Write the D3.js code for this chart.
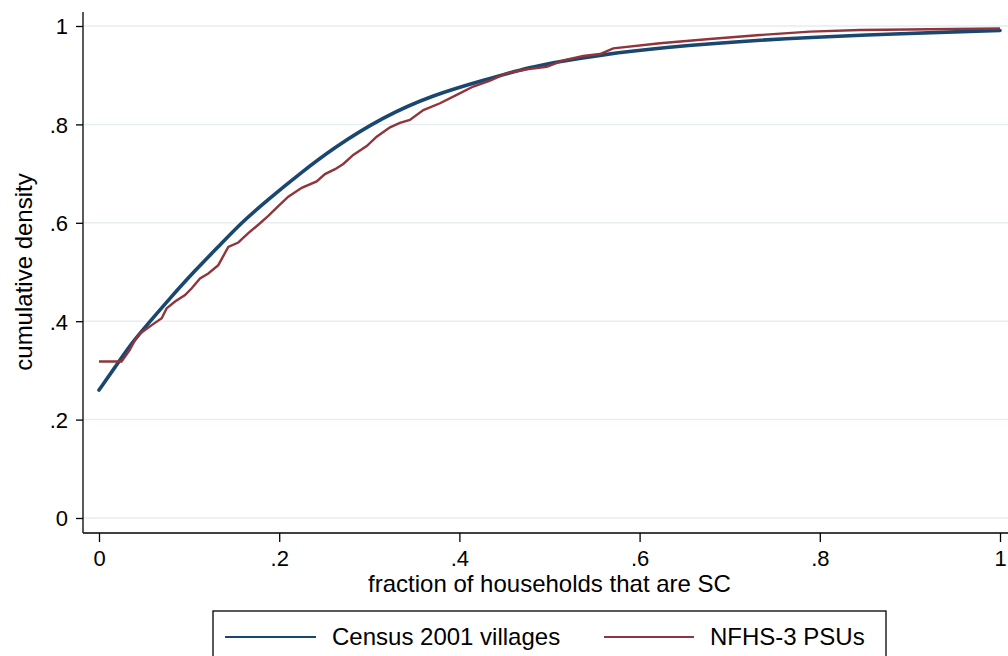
<!DOCTYPE html>
<html>
<head>
<meta charset="utf-8">
<script src="https://cdn.jsdelivr.net/npm/d3@7"></script>
<style>
  html, body { margin: 0; padding: 0; background: #fff; }
  #chart { width: 1008px; height: 656px; }
  text { font-family: "Liberation Sans", Arial, Helvetica, sans-serif; fill: #000; }
</style>
</head>
<body>
<div id="chart"></div>
<script>
// Census 2001 villages (smooth cdf)
const censusX = [0, 0.018, 0.036, 0.055, 0.077, 0.107, 0.136, 0.158, 0.188, 0.223, 0.26, 0.316, 0.371, 0.427, 0.482, 0.512, 0.556, 0.623, 0.734, 0.845, 1.0];
const censusY = [0.260, 0.307, 0.355, 0.396, 0.443, 0.504, 0.558, 0.600, 0.648, 0.700, 0.752, 0.816, 0.860, 0.890, 0.918, 0.928, 0.941, 0.956, 0.972, 0.982, 0.991];

// NFHS-3 PSUs (empirical cdf)
const nfhsX = [0, 0.025, 0.029, 0.034, 0.040, 0.0455, 0.051, 0.0585, 0.0696, 0.075, 0.0844, 0.0955, 0.1029, 0.1121, 0.1213, 0.1324, 0.1435, 0.1546, 0.1657, 0.1768, 0.1879, 0.199, 0.2101, 0.225, 0.2416, 0.2508, 0.262, 0.2711, 0.2822, 0.2971, 0.3082, 0.323, 0.334, 0.345, 0.36, 0.3785, 0.397, 0.4154, 0.434, 0.4525, 0.4747, 0.4969, 0.5153, 0.5375, 0.556, 0.5708, 0.6226, 0.678, 0.7336, 0.789, 0.8446, 1.0];
const nfhsY = [0.318, 0.318, 0.328, 0.341, 0.362, 0.375, 0.382, 0.392, 0.406, 0.426, 0.440, 0.453, 0.467, 0.487, 0.497, 0.514, 0.551, 0.560, 0.579, 0.596, 0.614, 0.634, 0.653, 0.671, 0.684, 0.699, 0.709, 0.7195, 0.738, 0.756, 0.775, 0.794, 0.803, 0.809, 0.829, 0.843, 0.860, 0.877, 0.889, 0.904, 0.912, 0.917, 0.930, 0.939, 0.943, 0.9546, 0.965, 0.9736, 0.9817, 0.9885, 0.992, 0.995];

const xTicks = [0, 0.2, 0.4, 0.6, 0.8, 1];
const yTicks = [0, 0.2, 0.4, 0.6, 0.8, 1];
const seriesNames = ['Census 2001 villages', 'NFHS-3 PSUs'];
const seriesColors = ['#1a476f', '#90353b'];

const W = 1008, H = 656;
const axisLeftX = 83, axisBottomY = 533, axisTopY = 12;
const fontSize = '24px';
const tickFontSize = '22px';

const scaleX = d3.scaleLinear().domain([0, 1]).range([99, 1000]);
const scaleY = d3.scaleLinear().domain([0, 1]).range([518, 26]);

const fmt = v => (v === 0 ? '0' : v === 1 ? '1' : String(v).replace(/^0/, ''));

const svg = d3.select('#chart').append('svg')
	.attr('width', W)
	.attr('height', H);

// gridlines
svg.append('g').attr('class', 'grid')
	.selectAll('line')
	.data(yTicks)
	.join('line')
	.attr('x1', axisLeftX + 1).attr('x2', W)
	.attr('y1', d => scaleY(d)).attr('y2', d => scaleY(d))
	.style('stroke', '#e6eef1')
	.style('stroke-width', 1.5);

// lines
const zip = (xs, ys) => xs.map((x, i) => ({x: x, y: ys[i]}));
const smoothLine = d3.line().x(d => scaleX(d.x)).y(d => scaleY(d.y)).curve(d3.curveBasis);
const stepLine = d3.line().x(d => scaleX(d.x)).y(d => scaleY(d.y));

svg.append('path')
	.datum(zip(censusX, censusY))
	.attr('d', smoothLine)
	.style('fill', 'none')
	.style('stroke', seriesColors[0])
	.style('stroke-width', 3.6)
	.style('stroke-linecap', 'round');

svg.append('path')
	.datum(zip(nfhsX, nfhsY))
	.attr('d', stepLine)
	.style('fill', 'none')
	.style('stroke', seriesColors[1])
	.style('stroke-width', 2.4);

// axes
const axisY = d3.axisLeft(scaleY).tickValues(yTicks).tickFormat(fmt).tickSize(7).tickPadding(8);
const axisX = d3.axisBottom(scaleX).tickValues(xTicks).tickFormat(fmt).tickSize(9).tickPadding(8);

const gy = svg.append('g').attr('transform', `translate(${axisLeftX},0)`).call(axisY);
const gx = svg.append('g').attr('transform', `translate(0,${axisBottomY})`).call(axisX);
[gy, gx].forEach(g => {
	g.select('.domain').remove();
	g.selectAll('.tick line').style('stroke', '#000').style('stroke-width', 1.3);
	g.selectAll('.tick text').style('font-size', tickFontSize).style('font-family', '"Liberation Sans", Arial, sans-serif');
});
gy.selectAll('.tick text').attr('dy', '0.36em');

svg.append('line')
	.attr('x1', axisLeftX).attr('x2', axisLeftX)
	.attr('y1', axisTopY).attr('y2', axisBottomY)
	.style('stroke', '#000').style('stroke-width', 1.3);
svg.append('line')
	.attr('x1', axisLeftX).attr('x2', W)
	.attr('y1', axisBottomY).attr('y2', axisBottomY)
	.style('stroke', '#000').style('stroke-width', 1.3);

// titles
svg.append('text')
	.attr('x', (scaleX(0) + scaleX(1)) / 2)
	.attr('y', 592)
	.attr('text-anchor', 'middle')
	.style('font-size', fontSize)
	.text('fraction of households that are SC');

svg.append('text')
	.attr('transform', `translate(32,${(scaleY(0) + scaleY(1)) / 2}) rotate(-90)`)
	.attr('text-anchor', 'middle')
	.style('font-size', fontSize)
	.text('cumulative density');

// legend
const legend = svg.append('g').attr('class', 'legend');
legend.append('rect')
	.attr('x', 213).attr('y', 611)
	.attr('width', 673).attr('height', 70)
	.style('fill', '#fff')
	.style('stroke', '#000')
	.style('stroke-width', 1.3);

const legendItems = [
	{name: seriesNames[0], color: seriesColors[0], x0: 225, x1: 316, tx: 332},
	{name: seriesNames[1], color: seriesColors[1], x0: 604, x1: 694, tx: 710}
];
const items = legend.selectAll('g.item').data(legendItems).join('g').attr('class', 'item');
items.append('line')
	.attr('x1', d => d.x0).attr('x2', d => d.x1)
	.attr('y1', 637).attr('y2', 637)
	.style('stroke', d => d.color)
	.style('stroke-width', 2.2);
items.append('text')
	.attr('x', d => d.tx).attr('y', 645)
	.style('font-size', fontSize)
	.text(d => d.name);
</script>
</body>
</html>
